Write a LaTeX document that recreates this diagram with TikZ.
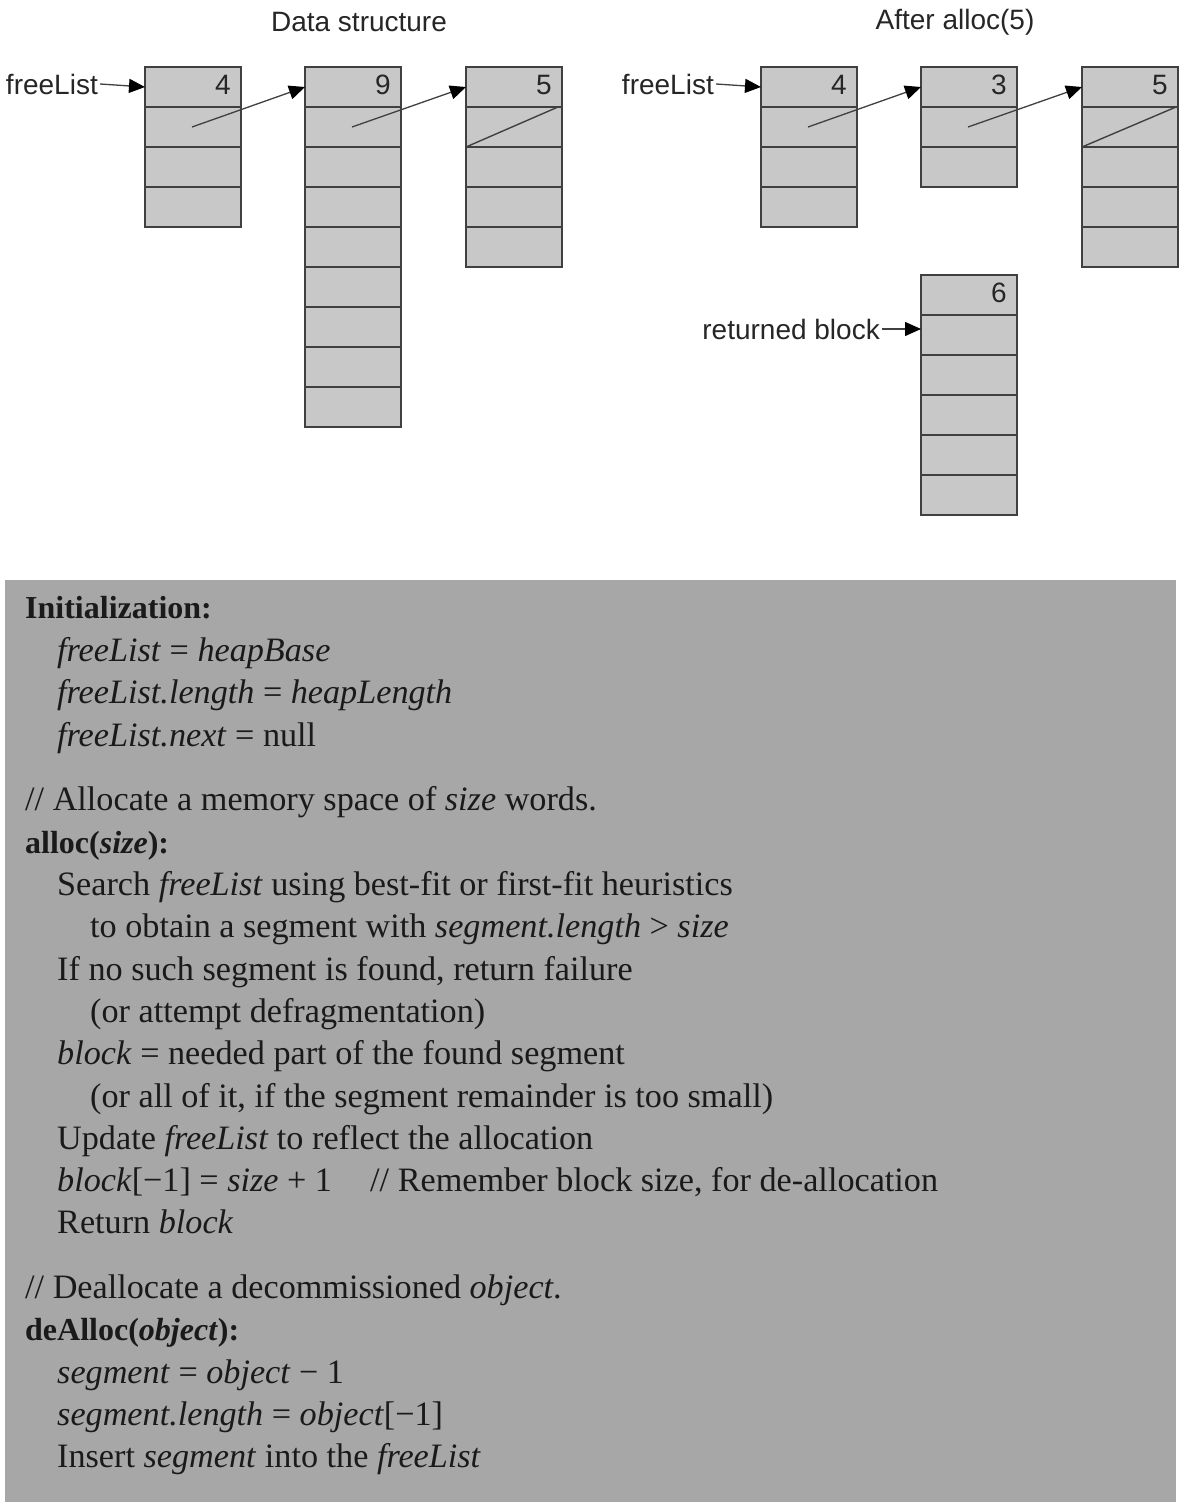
\documentclass[tikz,border=0pt]{standalone}
\usepackage{fontspec}
\setmainfont{Liberation Serif}
\newfontfamily\arialf{Liberation Sans}
\usetikzlibrary{arrows.meta}
\definecolor{cellfill}{HTML}{C8C8C8}
\definecolor{celldraw}{HTML}{404040}
\definecolor{boxfill}{HTML}{A7A7A7}
\definecolor{inkc}{HTML}{1A1A1A}
\newcommand\memblock[5]{% name, x, y, cells, number
  \foreach \i in {1,...,#4} {\node[cell] (#1-\i) at ({#2+48},{#3+20+40*(\i-1)}) {};}
  \node[num] (#1-n) at ({#2+86},{#3+27}) {#5};
}
\newcommand\hd[1]{{\fontsize{32}{32}\selectfont\bfseries #1}}
\begin{document}
\begin{tikzpicture}[x=1pt,y=-1pt,
  cell/.style={draw=celldraw, line width=1.8pt, fill=cellfill, minimum width=96pt, minimum height=40pt, inner sep=0pt, outer sep=0pt},
  num/.style={font=\arialf\fontsize{28}{28}\selectfont, anchor=base east, inner sep=0pt, text=black!85},
  lbl/.style={font=\arialf\fontsize{28}{28}\selectfont, inner sep=0pt, text=black!85},
  ptr/.style={draw=black!75, line width=1.3pt, -{Triangle[length=16pt,width=14pt,black]}},
  nullline/.style={draw=black!75, line width=1.4pt},
  code/.style={font=\fontsize{34.2}{34.2}\selectfont, anchor=base west, inner sep=0pt, text=inkc}]
\useasboundingbox (0,0) rectangle (1184,1502);
\fill[white] (0,0) rectangle (1184,1502);

% titles
\node[lbl] (t1) at (359,22) {Data structure};
\node[lbl] (t2) at (955,22) {After alloc(5)};

% left structure
\memblock{a}{145}{67}{4}{4}
\memblock{b}{305}{67}{9}{9}
\memblock{c}{466}{67}{5}{5}
\node[lbl, anchor=base east] (fl1) at (98,94) {freeList};
\draw[ptr] (fl1.east) ++(2pt,0) -- (a-1.west);
\draw[ptr] ([xshift=-1pt]a-2.center) -- (b-1.west);
\draw[ptr] ([xshift=-1pt]b-2.center) -- (c-1.west);
\draw[nullline] (c-2.south west) -- ([xshift=-4pt]c-2.north east);

% right structure
\memblock{d}{761}{67}{4}{4}
\memblock{e}{921}{67}{3}{3}
\memblock{f}{1082}{67}{5}{5}
\memblock{g}{921}{275}{6}{6}
\node[lbl, anchor=base east] (fl2) at (714,94) {freeList};
\draw[ptr] (fl2.east) ++(2pt,0) -- (d-1.west);
\draw[ptr] ([xshift=-1pt]d-2.center) -- (e-1.west);
\draw[ptr] ([xshift=-1pt]e-2.center) -- (f-1.west);
\draw[nullline] (f-2.south west) -- ([xshift=-2pt]f-2.north east);
\node[lbl, anchor=base east] (rb) at (880,339) {returned block};
\draw[ptr] (rb.east) ++(2pt,0) -- (g-2.west |- rb.east);

% code box
\fill[boxfill] (5,580) rectangle (1176,1502);
\node[code] (c1) at (25,618) {\hd{Initialization:}};
\node[code] (c2) at (57,661) {\textit{freeList} = \textit{heapBase}};
\node[code] (c3) at (57,703) {\textit{freeList.length} = \textit{heapLength}};
\node[code] (c4) at (57,746) {\textit{freeList.next} = null};
\node[code] (c5) at (25,810) {// Allocate a memory space of \textit{size} words.};
\node[code] (c6) at (25,853) {\hd{alloc(\textit{size}):}};
\node[code] (c7) at (57,895) {Search \textit{freeList} using best-fit or first-fit heuristics};
\node[code] (c8) at (90,937) {to obtain a segment with \textit{segment.length} > \textit{size}};
\node[code] (c9) at (57,980) {If no such segment is found, return failure};
\node[code] (c10) at (90,1022) {(or attempt defragmentation)};
\node[code] (c11) at (57,1064) {\textit{block} = needed part of the found segment};
\node[code] (c12) at (90,1107) {(or all of it, if the segment remainder is too small)};
\node[code] (c13) at (57,1149) {Update \textit{freeList} to reflect the allocation};
\node[code] (c14) at (57,1191) {\textit{block}[−1] = \textit{size} + 1};
\node[code] (c14b) at (370,1191) {// Remember block size, for de-allocation};
\node[code] (c15) at (57,1233) {Return \textit{block}};
\node[code] (c16) at (25,1298) {// Deallocate a decommissioned \textit{object}.};
\node[code] (c17) at (25,1340) {\hd{deAlloc(\textit{object}):}};
\node[code] (c18) at (57,1383) {\textit{segment} = \textit{object} − 1};
\node[code] (c19) at (57,1425) {\textit{segment.length} = \textit{object}[−1]};
\node[code] (c20) at (57,1467) {Insert \textit{segment} into the \textit{freeList}};
\end{tikzpicture}
\end{document}
